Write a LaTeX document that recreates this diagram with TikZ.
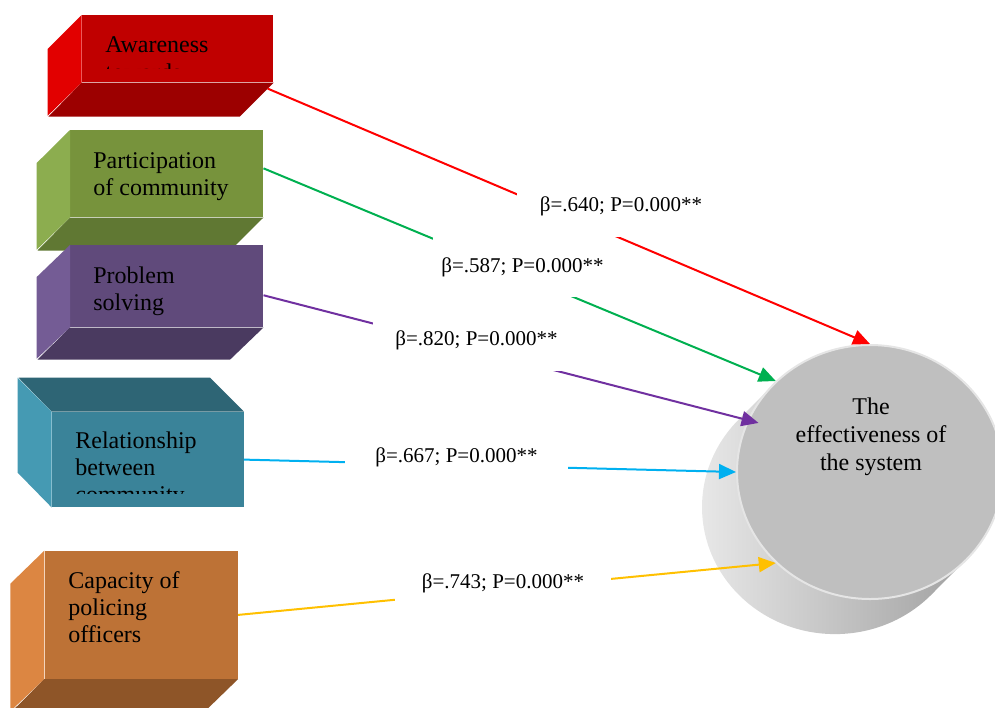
\documentclass[tikz,border=0pt]{standalone}
\usepackage{fontspec}
\setmainfont{Liberation Serif}
\usetikzlibrary{arrows.meta,shapes.geometric}

\definecolor{awfront}{HTML}{C00000}
\definecolor{awside}{HTML}{E20000}
\definecolor{awbot}{HTML}{9C0000}
\definecolor{pcfront}{HTML}{77933C}
\definecolor{pcside}{HTML}{8CAD4F}
\definecolor{pcbot}{HTML}{607833}
\definecolor{psfront}{HTML}{604A7B}
\definecolor{psside}{HTML}{745C95}
\definecolor{psbot}{HTML}{4A3A60}
\definecolor{relfront}{HTML}{3A8399}
\definecolor{relside}{HTML}{459AB3}
\definecolor{reltop}{HTML}{2E6575}
\definecolor{capfront}{HTML}{BD7236}
\definecolor{capside}{HTML}{DC8642}
\definecolor{capbot}{HTML}{8E5528}
\definecolor{lnred}{HTML}{FF0000}
\definecolor{lngreen}{HTML}{00B050}
\definecolor{lnpurple}{HTML}{7030A0}
\definecolor{lncyan}{HTML}{00B0F0}
\definecolor{lnorange}{HTML}{FFC000}

\begin{document}
\begin{tikzpicture}[x=0.5pt,y=-0.5pt,
    face/.style={rectangle, inner sep=0pt, anchor=north west},
    boxtext/.style={anchor=north west, inner sep=0pt, align=left, font=\fontsize{12}{13.5}\selectfont},
    beta/.style={fill=white, inner sep=0pt, font=\fontsize{10.5}{12.6}\selectfont},
    link/.style={line width=1pt, -{Triangle[length=8.5pt,width=7.5pt]}}]
    \clip (0,0) rectangle (995,707);

    % awareness
    \node[face, fill=awfront, minimum width=95.6pt, minimum height=33.4pt] (aw) at (81.7,15) {};
    \fill[awside] (aw.north west) -- ++(-34,34) -- ++(0,66.7) -- (aw.south west) -- cycle;
    \fill[awbot] (aw.south west) -- (aw.south east) -- ++(-34,34) -- ++(-191.3,0) -- cycle;
    \node[boxtext] (awt) at (105,36) {Awareness};
    \begin{scope}
        \clip (82,60) rectangle (273,68);
        \node[boxtext] (awt2) at (105,63) {towards};
    \end{scope}

    % participation
    \node[face, fill=pcfront, minimum width=96.35pt, minimum height=43.35pt] (pc) at (70,130) {};
    \fill[pcside] (pc.north west) -- ++(-33.3,33) -- ++(0,86.7) -- (pc.south west) -- cycle;
    \fill[pcbot] (pc.south west) -- (pc.south east) -- ++(-33.3,33) -- ++(-192.7,0) -- cycle;
    \node[boxtext] (pct) at (93,152) {Participation\\of community};

    % problem solving
    \node[face, fill=psfront, minimum width=96.35pt, minimum height=40.85pt] (ps) at (70,245) {};
    \fill[psside] (ps.north west) -- ++(-33.3,32) -- ++(0,81.7) -- (ps.south west) -- cycle;
    \fill[psbot] (ps.south west) -- (ps.south east) -- ++(-33.3,32) -- ++(-192.7,0) -- cycle;
    \node[boxtext] (pst) at (93,266) {Problem\\solving};

    % relationship
    \node[face, fill=relfront, minimum width=95.8pt, minimum height=47.5pt] (rel) at (51.7,411.7) {};
    \fill[reltop] (rel.north west) -- (rel.north east) -- ++(-34,-34) -- ++(-191.6,0) -- cycle;
    \fill[relside] (rel.north west) -- ++(-34,-34) -- ++(0,95) -- (rel.south west) -- cycle;
    \begin{scope}
        \clip (52,412) rectangle (243,493);
        \node[boxtext] (relt) at (75,431) {Relationship\\between\\community};
    \end{scope}

    % capacity
    \node[face, fill=capfront, minimum width=96.5pt, minimum height=63.8pt] (cap) at (44.3,550.7) {};
    \fill[capside] (cap.north west) -- ++(-34,33) -- ++(0,127.6) -- (cap.south west) -- cycle;
    \fill[capbot] (cap.south west) -- (cap.south east) -- ++(-34,33) -- ++(-193,0) -- cycle;
    \node[boxtext] (capt) at (68,571) {Capacity of\\policing\\officers};

    % cylinder
    \shade[left color=black!8, right color=black!42]
        (931,595) arc[start angle=43.8, end angle=223.8, x radius=133, y radius=127]
        -- (774,384) arc[start angle=223.8, end angle=403.8, x radius=133, y radius=127]
        -- cycle;
    \node[ellipse, fill=black!25, draw=black!10, line width=1pt, inner sep=0pt,
        minimum width=133pt, minimum height=127pt] (sys) at (870,472) {};
    \node[anchor=north, inner sep=0pt, align=center, font=\fontsize{12}{14}\selectfont] (syst)
        at (871,397) {The\\effectiveness of\\the system};

    % paths
    \draw[link, lnred] ([xshift=-3pt,yshift=-3pt]aw.south east) -- (sys.north);
    \draw[link, lngreen] ([yshift=2.7pt]pc.east) -- (sys.136);
    \draw[link, lnpurple] ([yshift=-4.5pt]ps.east) -- ([xshift=5pt,yshift=-2.5pt]sys.156);
    \draw[link, lncyan] (rel.east) -- (sys.180);
    \draw[link, lnorange] (cap.east) -- (sys.224);

    \node[beta, minimum width=104pt, minimum height=31pt] (b1) at (621,206) {β=.640; P=0.000**};
    \node[beta, minimum width=89.5pt, minimum height=30pt] (b2) at (522.5,267) {β=.587; P=0.000**};
    \node[beta, minimum width=103.5pt, minimum height=30.5pt] (b3) at (476.5,340.5) {β=.820; P=0.000**};
    \node[beta, minimum width=111.5pt, minimum height=27.5pt] (b4) at (456.5,457.5) {β=.667; P=0.000**};
    \node[beta, minimum width=108pt, minimum height=23pt] (b5) at (503,583) {β=.743; P=0.000**};
\end{tikzpicture}
\end{document}
